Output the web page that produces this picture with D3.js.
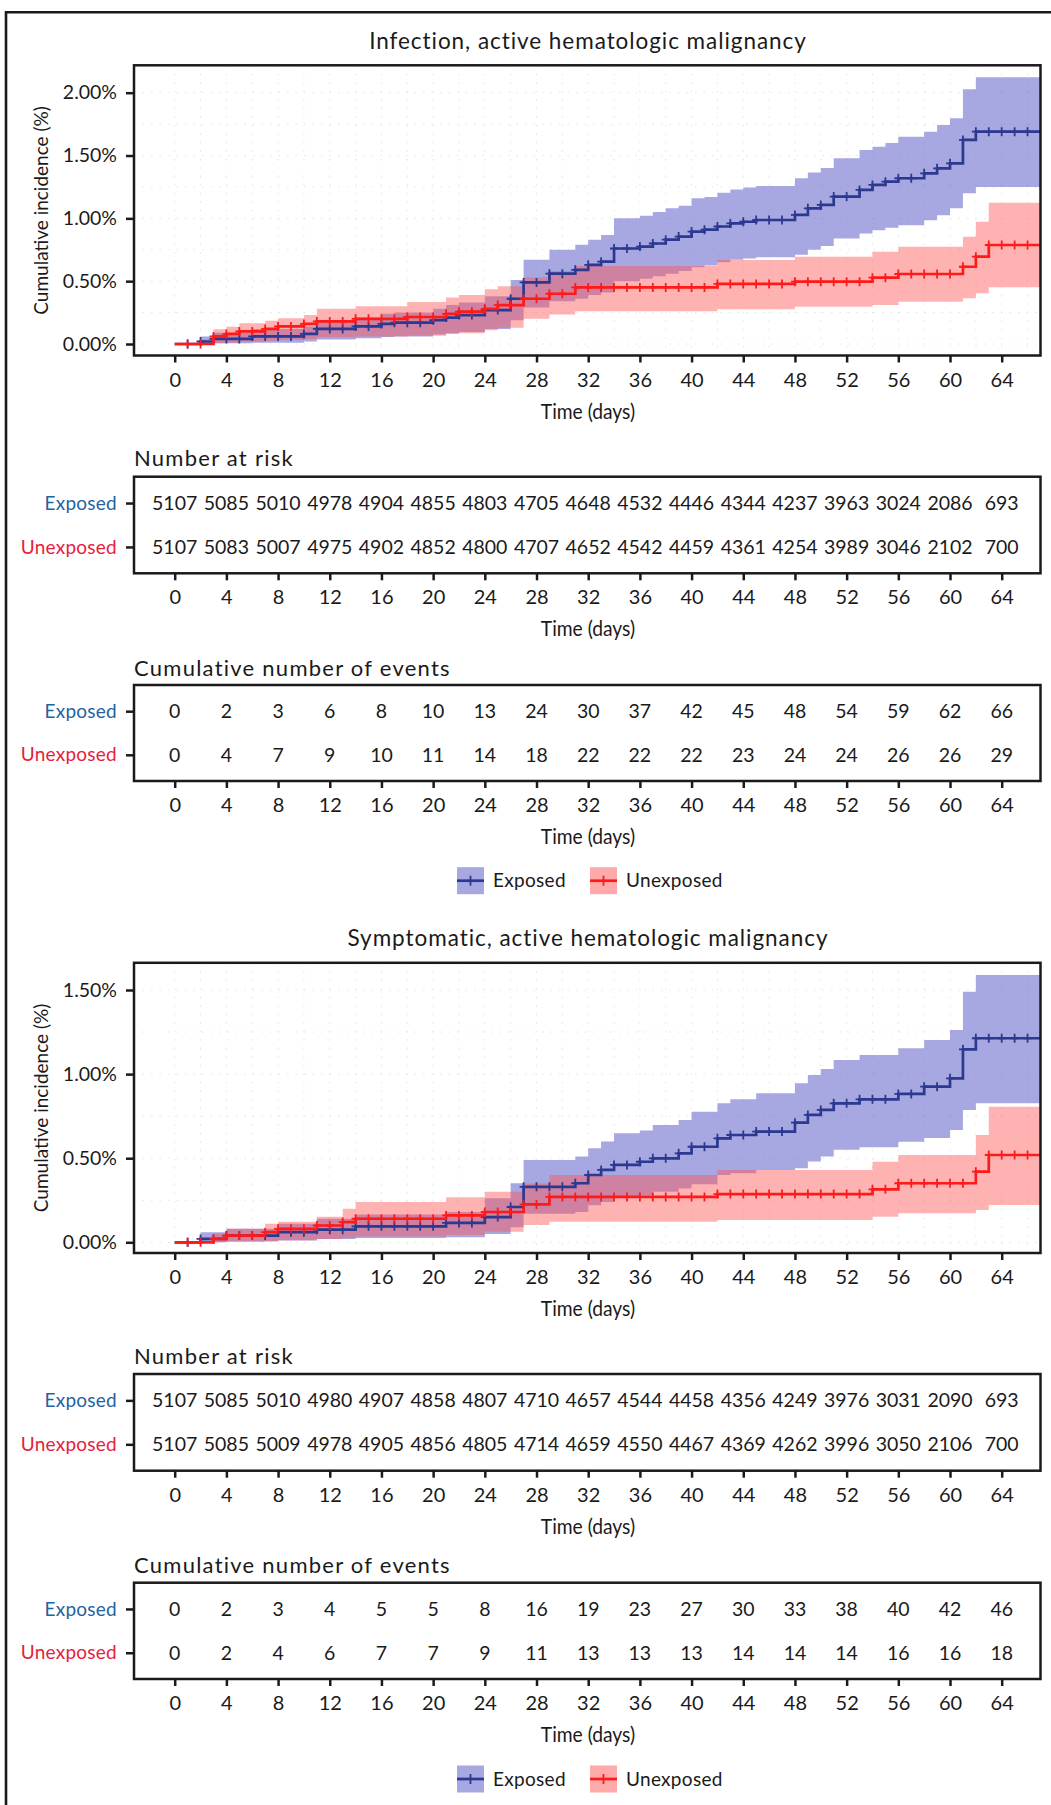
<!DOCTYPE html>
<html><head><meta charset="utf-8">
<script src="https://cdn.jsdelivr.net/npm/d3@7"></script>
<style>
html,body{margin:0;padding:0;background:#fff;}
svg{display:block;color:#1a1a1a;}
text{font-family:Lato,"Noto Sans",sans-serif;}
</style></head>
<body>
<script>
// ---------------- DATA ----------------
const timeTicks = [0,4,8,12,16,20,24,28,32,36,40,44,48,52,56,60,64];
const groups = ["Exposed","Unexposed"];
const p1Title = "Infection, active hematologic malignancy";
const p2Title = "Symptomatic, active hematologic malignancy";
const p1YTicks = [0,0.5,1,1.5,2];
const p2YTicks = [0,0.5,1,1.5];

// Panel 1 : Infection
const p1ExpDays = [0,2,3,6,10,11,14,16,17,20,21,22,24,26,27,29,31,32,33,34,36,37,38,39,40,41,42,43,44,45,48,49,50,51,53,54,55,56,58,59,60,61,62];
const p1ExpEst  = [0,0.02,0.04,0.06,0.08,0.12,0.14,0.16,0.17,0.19,0.21,0.23,0.27,0.36,0.49,0.56,0.59,0.63,0.655,0.76,0.775,0.80,0.83,0.855,0.895,0.91,0.935,0.96,0.973,0.987,1.027,1.08,1.107,1.173,1.226,1.266,1.292,1.319,1.358,1.398,1.438,1.624,1.69];
const p1ExpLo   = [0,0,0.005,0.01,0.02,0.035,0.045,0.055,0.06,0.075,0.085,0.095,0.12,0.19,0.29,0.34,0.36,0.39,0.41,0.50,0.52,0.54,0.56,0.58,0.61,0.625,0.65,0.67,0.68,0.69,0.71,0.75,0.78,0.84,0.88,0.905,0.925,0.945,0.985,1.025,1.08,1.20,1.25];
const p1ExpHi   = [0,0.06,0.09,0.12,0.14,0.19,0.21,0.24,0.25,0.28,0.31,0.33,0.38,0.51,0.67,0.75,0.79,0.83,0.867,1.0,1.02,1.05,1.08,1.10,1.16,1.17,1.204,1.23,1.245,1.257,1.319,1.364,1.40,1.478,1.544,1.57,1.60,1.65,1.69,1.743,1.796,2.027,2.122];
const p1UnDays  = [0,3,4,5,7,8,10,11,14,18,21,22,24,25,27,29,31,42,48,54,56,61,62,63];
const p1UnEst   = [0,0.06,0.08,0.10,0.12,0.14,0.16,0.18,0.20,0.215,0.24,0.257,0.28,0.31,0.36,0.40,0.45,0.478,0.496,0.528,0.557,0.615,0.695,0.788];
const p1UnLo    = [0,0.005,0.01,0.02,0.025,0.032,0.04,0.053,0.06,0.065,0.08,0.085,0.11,0.13,0.2,0.235,0.26,0.276,0.297,0.31,0.337,0.364,0.403,0.451];
const p1UnHi    = [0,0.117,0.138,0.165,0.185,0.204,0.23,0.28,0.30,0.335,0.37,0.39,0.435,0.46,0.53,0.58,0.62,0.668,0.695,0.735,0.774,0.854,0.973,1.125];
const p1RiskExposed   = [5107,5085,5010,4978,4904,4855,4803,4705,4648,4532,4446,4344,4237,3963,3024,2086,693];
const p1RiskUnexposed = [5107,5083,5007,4975,4902,4852,4800,4707,4652,4542,4459,4361,4254,3989,3046,2102,700];
const p1EventsExposed   = [0,2,3,6,8,10,13,24,30,37,42,45,48,54,59,62,66];
const p1EventsUnexposed = [0,4,7,9,10,11,14,18,22,22,22,23,24,24,26,26,29];

// Panel 2 : Symptomatic
const p2ExpDays = [0,2,4,8,11,14,21,24,26,27,31,32,33,34,36,37,39,40,42,43,45,48,49,50,51,53,56,58,60,61,62];
const p2ExpEst  = [0,0.02,0.04,0.06,0.075,0.095,0.115,0.15,0.21,0.33,0.351,0.40,0.43,0.46,0.479,0.499,0.529,0.568,0.618,0.638,0.658,0.711,0.757,0.787,0.826,0.85,0.882,0.925,0.975,1.147,1.213];
const p2ExpLo   = [0,0,0.005,0.01,0.02,0.025,0.03,0.05,0.09,0.17,0.18,0.22,0.24,0.27,0.28,0.30,0.32,0.345,0.40,0.41,0.43,0.44,0.48,0.51,0.55,0.565,0.598,0.62,0.668,0.787,0.826];
const p2ExpHi   = [0,0.06,0.08,0.11,0.14,0.165,0.18,0.262,0.351,0.489,0.51,0.559,0.60,0.648,0.665,0.697,0.727,0.776,0.826,0.85,0.886,0.945,0.995,1.03,1.084,1.114,1.153,1.203,1.262,1.49,1.589];
const p2UnDays  = [0,3,4,7,8,11,13,14,21,24,27,29,42,54,56,62,63];
const p2UnEst   = [0,0.02,0.04,0.06,0.08,0.10,0.12,0.14,0.16,0.18,0.225,0.27,0.287,0.315,0.351,0.42,0.519];
const p2UnLo    = [0,0,0.003,0.008,0.012,0.02,0.025,0.035,0.043,0.063,0.103,0.122,0.133,0.152,0.172,0.192,0.222];
const p2UnHi    = [0,0.053,0.08,0.11,0.122,0.152,0.2,0.24,0.268,0.301,0.35,0.40,0.43,0.479,0.519,0.638,0.806];
const p2RiskExposed   = [5107,5085,5010,4980,4907,4858,4807,4710,4657,4544,4458,4356,4249,3976,3031,2090,693];
const p2RiskUnexposed = [5107,5085,5009,4978,4905,4856,4805,4714,4659,4550,4467,4369,4262,3996,3050,2106,700];
const p2EventsExposed   = [0,2,3,4,5,5,8,16,19,23,27,30,33,38,40,42,46];
const p2EventsUnexposed = [0,2,4,6,7,7,9,11,13,13,13,14,14,14,16,16,18];

const censorDays = [1,2,3,4,5,6,7,8,9,10,11,12,13,14,15,16,17,18,19,20,21,22,23,24,25,26,27,28,29,30,31,32,33,34,35,36,37,38,39,40,41,42,43,44,45,46,47,48,49,50,51,52,53,54,55,56,57,58,59,60,61,62,63,64,65,66];

// ---------------- STYLE / LAYOUT ----------------
const W = 1051, H = 1805;
const L = 134, R = 1040.5, XMAX = 67.3, CX = 588;
const col = {
  expLine:"#2b3990", unLine:"#ff1a1a",
  expFill:"rgb(95,95,200)", unFill:"rgb(255,85,85)",
  expText:"#1f63a0", unText:"#e8203c", ink:"#1a1a1a"
};
const svg = d3.select("body").append("svg").attr("width",W).attr("height",H);
svg.append("rect").attr("width",W).attr("height",H).attr("fill","#fff");
// outer frame
svg.append("path").attr("d",`M6,${H+5} V12.2 H${W+5}`).attr("fill","none").attr("stroke",col.ink).attr("stroke-width",2.6);

const xs = d3.scaleLinear().domain([0,64]).range([174.7,1001.7]);

function styleAxis(g){
  g.select(".domain").remove();
  g.selectAll(".tick line").attr("stroke",col.ink).attr("stroke-width",2.5);
}
function timeTitle(y){
  svg.append("text").attr("transform",`translate(${CX},${y}) scale(0.875,1)`)
    .attr("text-anchor","middle").attr("font-size",22).style("fill",col.ink).text("Time (days)");
}
function xAxis(yBottom){
  const g = svg.append("g").attr("transform",`translate(0,${yBottom})`)
    .call(d3.axisBottom(xs).tickValues(timeTicks).tickSize(7));
  styleAxis(g);
  g.selectAll(".tick text").attr("y",31).attr("dy",null).attr("font-size",20).style("fill",col.ink);
  timeTitle(yBottom+63);
}

function mkPts(days,est,lo,hi){
  const p = days.map((t,i)=>({t, v:est[i], lo:lo[i], hi:hi[i]}));
  const last = p[p.length-1];
  p.push({t:XMAX, v:last.v, lo:last.lo, hi:last.hi});
  return p;
}
function valAt(days,est,t){
  let v = est[0];
  for(let i=0;i<days.length;i++){ if(days[i]<=t) v=est[i]; }
  return v;
}

let clipId = 0;
function kmPanel(opt){
  const {top,bottom,yTicks,y0px,ytopVal,ytopPx,title,titleBase,series} = opt;
  const ys = d3.scaleLinear().domain([0,ytopVal]).range([y0px,ytopPx]);
  svg.append("text").attr("x",CX).attr("y",titleBase).attr("text-anchor","middle")
    .attr("font-size",22.5).attr("letter-spacing",0.95).style("fill",col.ink).text(title);
  const id = "clip"+(clipId++);
  svg.append("clipPath").attr("id",id).append("rect")
    .attr("x",L).attr("y",top).attr("width",R-L).attr("height",bottom-top);
  const g = svg.append("g").attr("clip-path",`url(#${id})`);
  // faint dotted grid
  const gridX = [], gridY = [];
  for (const t of timeTicks){ gridX.push(t); gridX.push(t+2); }
  yTicks.forEach((v,i)=>{ gridY.push(v); if(i<yTicks.length-1) gridY.push(v+0.25); });
  g.selectAll(".gx").data(gridX).join("line")
    .attr("x1",d=>xs(d)).attr("x2",d=>xs(d)).attr("y1",top).attr("y2",bottom)
    .attr("stroke","#e4e4e4").attr("stroke-width",1).attr("stroke-dasharray","1.5,7");
  g.selectAll(".gy").data(gridY).join("line")
    .attr("y1",d=>ys(d)).attr("y2",d=>ys(d)).attr("x1",L).attr("x2",R)
    .attr("stroke","#e4e4e4").attr("stroke-width",1).attr("stroke-dasharray","1.5,7");
  const area = d3.area().x(d=>xs(d.t)).y0(d=>ys(d.lo)).y1(d=>ys(d.hi)).curve(d3.curveStepAfter);
  const line = d3.line().x(d=>xs(d.t)).y(d=>ys(d.v)).curve(d3.curveStepAfter);
  series.forEach(s=>{
    g.append("path").datum(mkPts(s.days,s.est,s.lo,s.hi)).attr("d",area)
      .attr("fill",s.fill).attr("fill-opacity",s.op);
  });
  series.forEach(s=>{
    g.append("path").datum(mkPts(s.days,s.est,s.lo,s.hi)).attr("d",line)
      .attr("fill","none").attr("stroke",s.line).attr("stroke-width",2.7);
    g.append("path").attr("d", censorDays.map(t=>{
        const X = xs(t), Y = ys(valAt(s.days,s.est,t));
        return `M${X-4},${Y}H${X+4}M${X},${Y-4.5}V${Y+4.5}`;
      }).join(""))
      .attr("fill","none").attr("stroke",s.line).attr("stroke-width",1.8);
  });
  svg.append("rect").attr("x",L).attr("y",top).attr("width",R-L).attr("height",bottom-top)
    .attr("fill","none").attr("stroke",col.ink).attr("stroke-width",2.5);
  const ya = svg.append("g").attr("transform",`translate(${L},0)`)
    .call(d3.axisLeft(ys).tickValues(yTicks).tickSize(8).tickPadding(9).tickFormat(d=>d.toFixed(2)+"%"));
  styleAxis(ya);
  ya.selectAll(".tick text").attr("font-size",19.5).style("fill",col.ink);
  const cy = (top+bottom)/2;
  svg.append("text").attr("transform",`translate(41,${cy}) rotate(-90)`).attr("dy","0.35em")
    .attr("text-anchor","middle").attr("font-size",19).style("fill",col.ink).text("Cumulative incidence (%)");
}

function table(opt){
  const {top,bottom,title,titleBase,rows} = opt;
  svg.append("text").attr("x",L).attr("y",titleBase).attr("font-size",22).attr("letter-spacing",1.25)
    .style("fill",col.ink).text(title);
  const yb = d3.scalePoint().domain(groups).range([top,bottom]).padding(0.6);
  svg.append("rect").attr("x",L).attr("y",top).attr("width",R-L).attr("height",bottom-top)
    .attr("fill","none").attr("stroke",col.ink).attr("stroke-width",2.5);
  const ya = svg.append("g").attr("transform",`translate(${L},0)`)
    .call(d3.axisLeft(yb).tickSize(8).tickPadding(9));
  styleAxis(ya);
  ya.selectAll(".tick text").attr("font-size",19).attr("letter-spacing",0.25)
    .style("fill",d=>d==="Exposed"?col.expText:col.unText);
  groups.forEach((gname,gi)=>{
    svg.append("g").selectAll("text").data(rows[gi]).join("text")
      .attr("x",(d,i)=>xs(timeTicks[i])).attr("y",yb(gname)).attr("dy","0.36em")
      .attr("text-anchor","middle").attr("font-size",19.5).style("fill",col.ink).text(d=>d);
  });
}

function legend(cy){
  const items = [
    {label:"Exposed", fill:col.expFill, op:0.55, line:col.expLine, x:457},
    {label:"Unexposed", fill:col.unFill, op:0.5, line:col.unLine, x:590}
  ];
  items.forEach(it=>{
    const g = svg.append("g");
    g.append("rect").attr("x",it.x).attr("y",cy-13.5).attr("width",27).attr("height",27)
      .attr("fill",it.fill).attr("fill-opacity",it.op);
    g.append("line").attr("x1",it.x).attr("x2",it.x+27).attr("y1",cy).attr("y2",cy)
      .attr("stroke",it.line).attr("stroke-width",2.7);
    g.append("line").attr("x1",it.x+13.5).attr("x2",it.x+13.5).attr("y1",cy-5).attr("y2",cy+5)
      .attr("stroke",it.line).attr("stroke-width",1.8);
    g.append("text").attr("x",it.x+36).attr("y",cy).attr("dy","0.35em").attr("font-size",19)
      .attr("letter-spacing",0.3).style("fill",col.ink).text(it.label);
  });
}

// ---------------- PANEL 1 ----------------
kmPanel({top:65.3,bottom:355.5,yTicks:p1YTicks,y0px:344,ytopVal:2,ytopPx:92.7,
  title:p1Title,titleBase:49,
  series:[
    {days:p1ExpDays,est:p1ExpEst,lo:p1ExpLo,hi:p1ExpHi,fill:col.expFill,op:0.55,line:col.expLine},
    {days:p1UnDays,est:p1UnEst,lo:p1UnLo,hi:p1UnHi,fill:col.unFill,op:0.45,line:col.unLine}
  ]});
xAxis(355.5);
table({top:476.7,bottom:573.3,title:"Number at risk",titleBase:466,rows:[p1RiskExposed,p1RiskUnexposed]});
xAxis(573.3);
table({top:685,bottom:781,title:"Cumulative number of events",titleBase:676,rows:[p1EventsExposed,p1EventsUnexposed]});
xAxis(781);
legend(880.7);

// ---------------- PANEL 2 ----------------
kmPanel({top:962.8,bottom:1253,yTicks:p2YTicks,y0px:1242.3,ytopVal:1.5,ytopPx:990,
  title:p2Title,titleBase:946,
  series:[
    {days:p2ExpDays,est:p2ExpEst,lo:p2ExpLo,hi:p2ExpHi,fill:col.expFill,op:0.55,line:col.expLine},
    {days:p2UnDays,est:p2UnEst,lo:p2UnLo,hi:p2UnHi,fill:col.unFill,op:0.45,line:col.unLine}
  ]});
xAxis(1253);
table({top:1374,bottom:1470.7,title:"Number at risk",titleBase:1364,rows:[p2RiskExposed,p2RiskUnexposed]});
xAxis(1470.7);
table({top:1582.7,bottom:1679,title:"Cumulative number of events",titleBase:1572.5,rows:[p2EventsExposed,p2EventsUnexposed]});
xAxis(1679);
legend(1779);
</script>
</body></html>
